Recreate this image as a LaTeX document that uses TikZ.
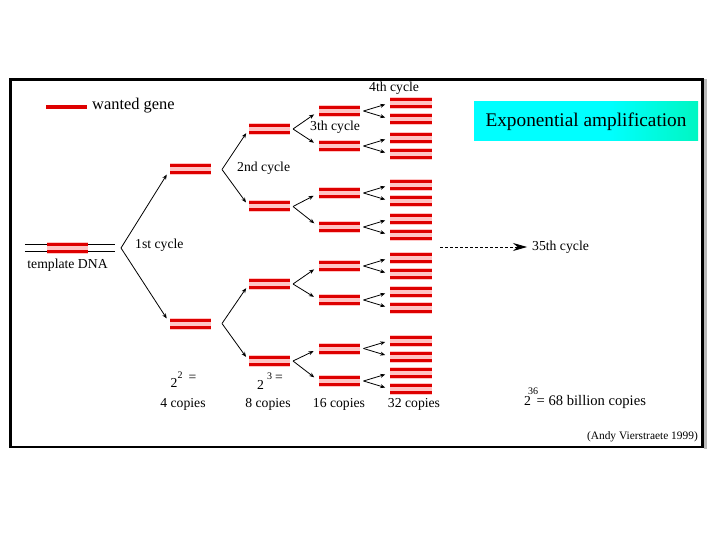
\documentclass[tikz,border=0pt]{standalone}
\usepackage{fontspec}
\setmainfont{Liberation Serif}
\usetikzlibrary{arrows.meta}
\definecolor{genered}{RGB}{222,0,0}
\definecolor{genepink}{RGB}{255,196,196}
\definecolor{boxgreen}{RGB}{0,236,118}
\pgfdeclarehorizontalshading{expshade}{100bp}{color(0bp)=(cyan); color(55bp)=(cyan); color(100bp)=(boxgreen)}
\begin{document}
\begin{tikzpicture}[x=1pt,y=-1pt,
  gene/.style={minimum width=41pt,minimum height=12pt,inner sep=0pt,outer sep=0pt,fill=genepink,
    path picture={
      \draw[genered,line width=3pt] ([yshift=3.5pt]path picture bounding box.west) -- ([yshift=3.5pt]path picture bounding box.east);
      \draw[genered,line width=3pt] ([yshift=-3.5pt]path picture bounding box.west) -- ([yshift=-3.5pt]path picture bounding box.east);}},
  wide/.style={minimum width=42pt},
  arr/.style={-{Stealth[length=5pt,width=4pt]},line width=0.8pt},
  darr/.style={-{Stealth[length=14pt,width=8pt]},line width=0.8pt,dash pattern=on 3pt off 2pt},
  txt/.style={inner sep=0pt,font=\fontsize{13.7pt}{16pt}\selectfont},
  suptxt/.style={inner sep=0pt,font=\fontsize{10pt}{12pt}\selectfont}]
\useasboundingbox (0,0) rectangle (720,540);
\fill[white] (0,0) rectangle (720,540);
% frame
\draw[gray!55,line width=3pt] (705.5,79) -- (705.5,449);
\draw[line width=2.7pt] (10.5,79.5) rectangle (702.5,447);
% legend
\draw[genered,line width=3.5pt] (46,107) -- (87,107);
\node[txt,anchor=west,font=\fontsize{16.4pt}{18pt}\selectfont] (legtxt) at (92,106) {wanted gene};
% title box
\node[shading=expshade,minimum width=224pt,minimum height=39pt,inner sep=0pt,
      font=\fontsize{19.3pt}{22pt}\selectfont] (expamp) at (586,121.5) {Exponential amplification};
% template DNA
\node[minimum width=90pt,minimum height=12pt,inner sep=0pt] (tmpl) at (70,248) {};
\draw[line width=0.9pt] ([yshift=3.5pt]tmpl.west) -- ([yshift=3.5pt]tmpl.east);
\draw[line width=0.9pt] ([yshift=-3.5pt]tmpl.west) -- ([yshift=-3.5pt]tmpl.east);
\node[gene] (g0) at (67.5,248) {};
\node[txt] (ttmpl) at (67.5,265.5) {template DNA};
% 1st cycle
\coordinate (v0) at (121,248);
\node[gene] (g1-1) at (190.5,169.5) {};
\node[gene] (g1-2) at (190.5,323.5) {};
\draw[arr,shorten >=6pt] (v0) -- (g1-1.west);
\draw[arr,shorten >=6pt] (v0) -- (g1-2.west);
\node[txt,anchor=west] (c1) at (135,245) {1st cycle};
% 2nd cycle
\coordinate (v1-1) at (222,169.5);
\coordinate (v1-2) at (222,323.5);
\node[gene] (g2-1) at (269.5,129) {};
\node[gene] (g2-2) at (269.5,206.5) {};
\node[gene] (g2-3) at (269.5,284) {};
\node[gene] (g2-4) at (269.5,361) {};
\draw[arr,shorten >=5pt] (v1-1) -- (g2-1.west);
\draw[arr,shorten >=5pt] (v1-1) -- (g2-2.west);
\draw[arr,shorten >=5pt] (v1-2) -- (g2-3.west);
\draw[arr,shorten >=5pt] (v1-2) -- (g2-4.west);
\node[txt,anchor=west] (c2) at (237,168) {2nd cycle};
% 3rd cycle
\foreach \k/\y in {1/129,2/206.5,3/284,4/361}{
  \coordinate (v2-\k) at (293,\y);
}
\foreach \i/\y in {1/111,2/146,3/193,4/227,5/266,6/300,7/348.5,8/381}{
  \node[gene] (g3-\i) at (339.5,\y) {};
}
\draw[arr,shorten >=6pt] (v2-1) -- (g3-1.west);
\draw[arr,shorten >=6pt] (v2-1) -- (g3-2.west);
\draw[arr,shorten >=6pt] (v2-2) -- (g3-3.west);
\draw[arr,shorten >=6pt] (v2-2) -- (g3-4.west);
\draw[arr,shorten >=6pt] (v2-3) -- (g3-5.west);
\draw[arr,shorten >=6pt] (v2-3) -- (g3-6.west);
\draw[arr,shorten >=6pt] (v2-4) -- (g3-7.west);
\draw[arr,shorten >=6pt] (v2-4) -- (g3-8.west);
\node[txt,anchor=west] (c3) at (310,127) {3th cycle};
% 4th cycle
\foreach \i/\y in {1/111,2/146,3/193,4/227,5/266,6/300,7/348.5,8/381}{
  \coordinate (v3-\i) at (363.5,\y);
  \node[gene,wide] (g4-\i a) at (411,\y-8) {};
  \node[gene,wide] (g4-\i b) at (411,\y+8) {};
  \draw[arr,shorten >=5pt] (v3-\i) -- (g4-\i a.west);
  \draw[arr,shorten >=5pt] (v3-\i) -- (g4-\i b.west);
}
\node[txt,anchor=west] (c4) at (369,88.5) {4th cycle};
% 35th cycle
\coordinate (dstart) at (440,247);
\node[txt,anchor=west] (c35) at (532,247) {35th cycle};
\draw[darr,shorten >=5pt] (dstart) -- (c35.west);
% counts
\node[txt] (p2b) at (174,383) {2};
\node[suptxt] (p2s) at (180,375.5) {2};
\node[txt] (p2e) at (192.5,378) {=};
\node[txt] (n4) at (183,404) {4 copies};
\node[txt] (p3b) at (260.5,385) {2};
\node[suptxt] (p3s) at (269.5,376) {3};
\node[txt] (p3e) at (279,378.5) {=};
\node[txt] (n8) at (268,404) {8 copies};
\node[txt] (n16) at (339,404) {16 copies};
\node[txt] (n32) at (414,404) {32 copies};
\node[txt] (p36b) at (527.5,401) {2};
\node[suptxt] (p36s) at (533,391) {36};
\node[txt,anchor=west,font=\fontsize{14.6pt}{16pt}\selectfont] (n68) at (536.5,402) {= 68 billion copies};
% credit
\node[txt,anchor=east,font=\fontsize{11.4pt}{13pt}\selectfont] (credit) at (698,437) {(Andy Vierstraete 1999)};
\end{tikzpicture}
\end{document}
